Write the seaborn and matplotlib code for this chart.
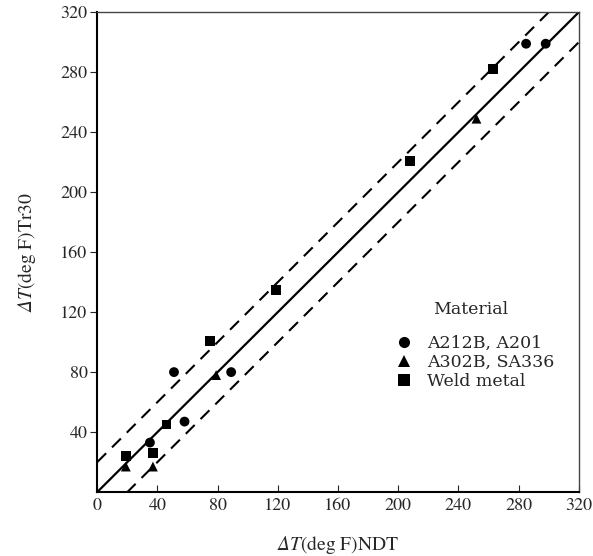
import matplotlib
matplotlib.use("Agg")
import matplotlib.pyplot as plt
import seaborn as sns
import pandas as pd
import numpy as np
from matplotlib.font_manager import FontProperties

# Data
circle_x = [35, 58, 51, 89, 285, 298]
circle_y = [33, 47, 80, 80, 299, 299]
tri_x = [19, 37, 79, 252]
tri_y = [17, 17, 78, 249]
sq_x = [19, 37, 46, 75, 119, 208, 263]
sq_y = [24, 26, 45, 101, 135, 221, 282]
materials = ["A212B, A201", "A302B, SA336", "Weld metal"]
band = 20
ticks = [0, 40, 80, 120, 160, 200, 240, 280, 320]

df = pd.DataFrame({
    "x": circle_x + tri_x + sq_x,
    "y": circle_y + tri_y + sq_y,
    "Material": [materials[0]] * len(circle_x) + [materials[1]] * len(tri_x) + [materials[2]] * len(sq_x),
})

sns.set_theme(style="white")
plt.rcParams["font.family"] = ["STIXGeneral", "DejaVu Serif"]
plt.rcParams["mathtext.fontset"] = "custom"
plt.rcParams["mathtext.rm"] = "STIXGeneral:italic"
plt.rcParams["mathtext.it"] = "STIXGeneral:italic"

fig = plt.figure(figsize=(5.93, 5.56), dpi=100)
ax = fig.add_axes([0.164, 0.115, 0.812, 0.863])

lx = np.array([ticks[0], ticks[-1]])
lines = pd.DataFrame({"x": np.concatenate([lx, lx, lx]),
                      "y": np.concatenate([lx, lx + band, lx - band]),
                      "kind": ["mid"] * 2 + ["up"] * 2 + ["lo"] * 2})
sns.lineplot(data=lines[lines.kind == "mid"], x="x", y="y", color="black", lw=1.6, ax=ax, legend=False)
sns.lineplot(data=lines[lines.kind == "up"], x="x", y="y", color="black", lw=1.5, ax=ax, legend=False,
             linestyle=(0, (6, 4)))
sns.lineplot(data=lines[lines.kind == "lo"], x="x", y="y", color="black", lw=1.5, ax=ax, legend=False,
             linestyle=(0, (6, 4)))

sns.scatterplot(data=df, x="x", y="y", style="Material", style_order=materials,
                markers={materials[0]: "o", materials[1]: "^", materials[2]: "s"},
                color="black", s=50, edgecolor="black", linewidth=0, ax=ax, zorder=5)

ax.set_xlim(0, 320)
ax.set_ylim(0, 320)
ax.set_xticks(ticks)
ax.set_yticks(ticks[1:])
ax.set_yticklabels([str(t) for t in ticks[1:]])
ax.tick_params(axis="x", direction="in", length=5, width=0.8, labelsize=13, pad=4, bottom=True)
ax.tick_params(axis="y", direction="out", length=5, width=0.8, labelsize=13, pad=2, left=True)
for s in ["left", "bottom"]:
    ax.spines[s].set_color("black")
    ax.spines[s].set_linewidth(1.5)
for s in ["top", "right"]:
    ax.spines[s].set_color("#444444")
    ax.spines[s].set_linewidth(1.0)

ax.set_xlabel(r"$\Delta T$(deg F)NDT", fontsize=14, labelpad=15)
ax.set_ylabel(r"$\Delta T$(deg F)Tr30", fontsize=14, labelpad=16)

legfont = FontProperties(family="DejaVu Serif", size=12.5)
leg = ax.legend(title="Material", loc="center left", bbox_to_anchor=(0.576, 0.305),
                frameon=False, prop=legfont, title_fontproperties=legfont,
                handletextpad=0.3, labelspacing=0.12, borderpad=0.2)
leg._legend_box.align = "center"
leg._legend_box.sep = 12
for h in leg.legend_handles:
    h.set_markersize(8)

fig.savefig("out.png", dpi=100)
